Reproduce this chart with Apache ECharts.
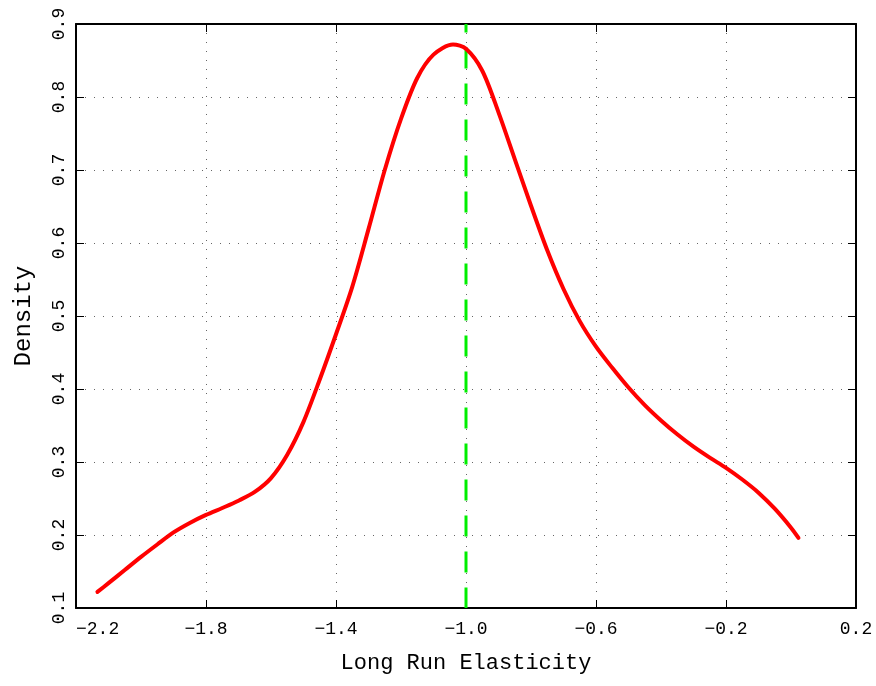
<!DOCTYPE html>
<html>
<head>
<meta charset="utf-8">
<script src="https://cdn.jsdelivr.net/npm/echarts@6/dist/echarts.min.js"></script>
<style>
  html, body { margin: 0; padding: 0; background: #ffffff; }
  #chart { width: 876px; height: 686px; }
</style>
</head>
<body>
<div id="chart"></div>
<script>
// Kernel density of the long run elasticity estimates
const elasticity = [
  -2.134, -2.10, -2.05, -2.00, -1.95, -1.90, -1.85, -1.80, -1.75, -1.70,
  -1.65, -1.60, -1.55, -1.50, -1.45, -1.40, -1.35, -1.30, -1.25, -1.20,
  -1.15, -1.10, -1.04, -1.00, -0.95, -0.90, -0.85, -0.80, -0.75, -0.70,
  -0.65, -0.60, -0.55, -0.50, -0.45, -0.40, -0.35, -0.30, -0.25, -0.20,
  -0.15, -0.10, -0.05, 0.00, 0.023
];
const density = [
  0.122, 0.134, 0.152, 0.170, 0.187, 0.2035, 0.2165, 0.2275, 0.237, 0.247,
  0.259, 0.278, 0.310, 0.355, 0.413, 0.475, 0.540, 0.619, 0.700, 0.770,
  0.826, 0.858, 0.872, 0.866, 0.836, 0.779, 0.715, 0.651, 0.590, 0.537,
  0.493, 0.458, 0.429, 0.402, 0.378, 0.357, 0.338, 0.321, 0.306, 0.292,
  0.276, 0.258, 0.236, 0.210, 0.196
];

// Reference value marked with the dashed vertical line
const referenceElasticity = -1.0;

// Axis ranges and tick steps
const xRange = [-2.2, 0.2];
const xStep = 0.4;
const yRange = [0.1, 0.9];
const yStep = 0.1;

const axisTitleX = 'Long Run Elasticity';
const axisTitleY = 'Density';

const FONT = '"Liberation Mono", "DejaVu Sans Mono", monospace';

function tickText(v) {
  const s = Math.abs(v).toFixed(1);
  return (v < -1e-9 ? '\u2212' : '') + s;
}

const curve = elasticity.map((x, i) => [x, density[i]]);
const refLine = [[referenceElasticity, yRange[1]], [referenceElasticity, yRange[0]]];

const frameLine = { show: true, onZero: false, lineStyle: { color: '#000', width: 2 } };
const innerTick = { show: true, inside: true, length: 8, lineStyle: { color: '#000', width: 1 } };
const dotted = { show: true, lineStyle: { color: '#666', width: 1, type: [1, 8] } };

const chart = echarts.init(document.getElementById('chart'), null, { renderer: 'canvas' });

chart.setOption({
  backgroundColor: '#ffffff',
  animation: false,
  grid: { left: 76, right: 20, top: 24, bottom: 78, containLabel: false },
  xAxis: [
    {
      type: 'value', position: 'bottom',
      min: xRange[0], max: xRange[1], interval: xStep,
      axisLine: frameLine, axisTick: innerTick, splitLine: dotted,
      axisLabel: {
        show: true, margin: 12, color: '#000', fontFamily: FONT, fontSize: 18,
        formatter: tickText, alignMinLabel: 'left', showMinLabel: true, showMaxLabel: true
      },
      name: axisTitleX, nameLocation: 'middle', nameGap: 44,
      nameTextStyle: { color: '#000', fontFamily: FONT, fontSize: 22 }
    },
    {
      type: 'value', position: 'top',
      min: xRange[0], max: xRange[1], interval: xStep,
      axisLine: frameLine, axisTick: innerTick,
      axisLabel: { show: false }, splitLine: { show: false }
    }
  ],
  yAxis: [
    {
      type: 'value', position: 'left',
      min: yRange[0], max: yRange[1], interval: yStep,
      axisLine: frameLine, axisTick: innerTick, splitLine: dotted,
      axisLabel: {
        show: true, rotate: 90, margin: 8, color: '#000', fontFamily: FONT, fontSize: 18,
        formatter: tickText, showMinLabel: true, showMaxLabel: true
      },
      name: axisTitleY, nameLocation: 'middle', nameGap: 40, nameRotate: 90,
      nameTextStyle: { color: '#000', fontFamily: FONT, fontSize: 24 }
    },
    {
      type: 'value', position: 'right',
      min: yRange[0], max: yRange[1], interval: yStep,
      axisLine: frameLine, axisTick: innerTick,
      axisLabel: { show: false }, splitLine: { show: false }
    }
  ],
  series: [
    {
      type: 'line', data: refLine, xAxisIndex: 0, yAxisIndex: 0,
      symbol: 'none', silent: true,
      lineStyle: { color: '#00ee00', width: 3, type: [21, 15], dashOffset: 12.5 },
      z: 3
    },
    {
      type: 'line', data: curve, xAxisIndex: 0, yAxisIndex: 0,
      symbol: 'none', smooth: 0.3, silent: true,
      lineStyle: { color: '#ff0000', width: 4, cap: 'round', join: 'round' },
      z: 4
    }
  ]
});
</script>
</body>
</html>
